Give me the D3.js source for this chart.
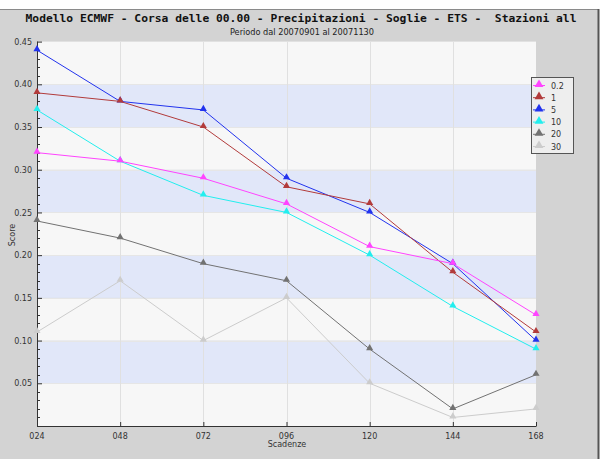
<!DOCTYPE html>
<html>
<head>
<meta charset="utf-8">
<script src="https://cdn.jsdelivr.net/npm/d3@7"></script>
<style>
  html, body { margin: 0; padding: 0; background: #ffffff; }
  svg { display: block; }
</style>
</head>
<body>
<script>
// Forecast lead times (hours) and ETS scores per precipitation threshold
const leadTimes = ["024", "048", "072", "096", "120", "144", "168"];
const thresholds = ["0.2", "1", "5", "10", "20", "30"];
const ets_0_2 = [0.32, 0.31, 0.29, 0.26, 0.21, 0.19, 0.13];
const ets_1   = [0.39, 0.38, 0.35, 0.28, 0.26, 0.18, 0.11];
const ets_5   = [0.44, 0.38, 0.37, 0.29, 0.25, 0.19, 0.10];
const ets_10  = [0.37, 0.31, 0.27, 0.25, 0.20, 0.14, 0.09];
const ets_20  = [0.24, 0.22, 0.19, 0.17, 0.09, 0.02, 0.06];
const ets_30  = [0.11, 0.17, 0.10, 0.15, 0.05, 0.01, 0.02];
const yTickLabels = ["0.05", "0.10", "0.15", "0.20", "0.25", "0.30", "0.35", "0.40", "0.45"];
const seriesColors = ["#ff44ff", "#b23b3b", "#2233ee", "#22eeee", "#727272", "#cccccc"];

const seriesValues = [ets_0_2, ets_1, ets_5, ets_10, ets_20, ets_30];
const series = thresholds.map((t, i) => ({ name: t, values: seriesValues[i], color: seriesColors[i] }));

const W = 601, H = 459;
const plot = { left: 37, right: 536, top: 41.6, bottom: 426 };

const svg = d3.select("body").append("svg")
  .attr("width", W).attr("height", H);

// Grey panel with darker frame on top and right
svg.append("rect").attr("x", 0).attr("y", 9).attr("width", 599).attr("height", H - 9)
  .attr("fill", "#d3d3d3");
svg.append("line").attr("x1", 0).attr("x2", 599).attr("y1", 9.5).attr("y2", 9.5)
  .attr("stroke", "#8a8a8a").attr("stroke-width", 1);
svg.append("line").attr("x1", 598.5).attr("x2", 598.5).attr("y1", 9).attr("y2", H)
  .attr("stroke", "#555555").attr("stroke-width", 2);

const x = d3.scalePoint().domain(leadTimes).range([plot.left, plot.right]);
const y = d3.scaleLinear().domain([0, 0.45]).range([plot.bottom, plot.top]);

// Plot background: alternating horizontal bands every 0.05
const bandStarts = d3.range(0, 0.45, 0.05);
svg.append("g").selectAll("rect").data(bandStarts).join("rect")
  .attr("x", plot.left)
  .attr("width", plot.right - plot.left)
  .attr("y", d => y(d + 0.05))
  .attr("height", d => y(d) - y(d + 0.05))
  .attr("fill", (d, i) => (i % 2 === 1) ? "#e1e7f9" : "#f7f7f7");

// Faint band separators
svg.append("g").selectAll("line").data(d3.range(0.05, 0.45, 0.05)).join("line")
  .attr("x1", plot.left).attr("x2", plot.right)
  .attr("y1", d => Math.round(y(d)) + 0.5).attr("y2", d => Math.round(y(d)) + 0.5)
  .attr("stroke", "#e6e6e6").attr("stroke-width", 1);

// Vertical grid lines at each lead time
svg.append("g").selectAll("line").data(leadTimes.slice(1, -1)).join("line")
  .attr("x1", d => Math.round(x(d)) + 0.5).attr("x2", d => Math.round(x(d)) + 0.5)
  .attr("y1", plot.top).attr("y2", plot.bottom)
  .attr("stroke", "#e0e0e0").attr("stroke-width", 1);

// Y axis: major ticks with labels, minor ticks every 0.01 pointing inward
const yAxis = d3.axisRight(y)
  .tickValues(yTickLabels.map(Number))
  .tickFormat((d, i) => yTickLabels[i])
  .tickSize(5).tickPadding(0);
const gy = svg.append("g").attr("transform", `translate(${plot.left},0)`).call(yAxis);
gy.select(".domain").remove();
gy.selectAll(".tick line").attr("stroke", "#333");
gy.selectAll(".tick text")
  .attr("x", -5).attr("text-anchor", "end")
  .attr("font-family", "DejaVu Sans").attr("font-size", 8).attr("fill", "#333");

const minor = d3.range(1, 45).filter(v => v % 5 !== 0).map(v => v / 100);
svg.append("g").selectAll("line").data(minor).join("line")
  .attr("x1", plot.left).attr("x2", plot.left + 3)
  .attr("y1", d => Math.round(y(d)) + 0.5).attr("y2", d => Math.round(y(d)) + 0.5)
  .attr("stroke", "#333").attr("stroke-width", 1);

// X axis with upward ticks
const xAxis = d3.axisTop(x).tickSize(4).tickFormat(() => "");
const gx = svg.append("g").attr("transform", `translate(0,${plot.bottom})`).call(xAxis);
gx.select(".domain").remove();
gx.selectAll(".tick line").attr("stroke", "#333");
svg.append("g").selectAll("text").data(leadTimes).join("text")
  .attr("x", d => x(d)).attr("y", plot.bottom + 13)
  .attr("text-anchor", "middle")
  .attr("font-family", "DejaVu Sans").attr("font-size", 8).attr("fill", "#333")
  .text(d => d);

// Axis lines
svg.append("line").attr("x1", plot.left + 0.5).attr("x2", plot.left + 0.5)
  .attr("y1", plot.top).attr("y2", plot.bottom + 0.5)
  .attr("stroke", "#333").attr("stroke-width", 1);
svg.append("line").attr("x1", plot.left).attr("x2", plot.right + 0.5)
  .attr("y1", plot.bottom + 0.5).attr("y2", plot.bottom + 0.5)
  .attr("stroke", "#333").attr("stroke-width", 1);

// Series lines and triangle markers
const line = d3.line().x((d, i) => x(leadTimes[i])).y(d => y(d));
const tri = d3.symbol().type(d3.symbolTriangle).size(22);
const gs = svg.append("g");
series.slice().reverse().forEach(s => {
  gs.append("path").datum(s.values)
    .attr("d", line).attr("fill", "none")
    .attr("stroke", s.color).attr("stroke-width", 1);
  gs.append("g").selectAll("path").data(s.values).join("path")
    .attr("d", tri)
    .attr("transform", (d, i) => `translate(${x(leadTimes[i])},${y(d) - 1})`)
    .attr("fill", s.color);
});

// Titles
svg.append("text").attr("x", 301).attr("y", 21.5).attr("text-anchor", "middle")
  .attr("font-family", "DejaVu Sans Mono").attr("font-weight", "bold")
  .attr("font-size", 11.3).attr("fill", "#111")
  .attr("xml:space", "preserve")
  .text("Modello ECMWF - Corsa delle 00.00 - Precipitazioni - Soglie - ETS -  Stazioni all");
svg.append("text").attr("x", 302).attr("y", 35).attr("text-anchor", "middle")
  .attr("font-family", "DejaVu Sans").attr("font-size", 8.2).attr("fill", "#222")
  .text("Periodo dal 20070901 al 20071130");

// Axis titles
svg.append("text").attr("transform", "translate(15,235) rotate(-90)")
  .attr("text-anchor", "middle")
  .attr("font-family", "DejaVu Sans").attr("font-size", 8).attr("fill", "#333")
  .text("Score");
svg.append("text").attr("x", 287).attr("y", 447).attr("text-anchor", "middle")
  .attr("font-family", "DejaVu Sans").attr("font-size", 8).attr("fill", "#333")
  .text("Scadenze");

// Legend
const lg = svg.append("g").attr("transform", "translate(531,77)");
lg.append("rect").attr("x", 0.5).attr("y", 0.5).attr("width", 42).attr("height", 76)
  .attr("fill", "#eeeeee").attr("stroke", "#555").attr("stroke-width", 1);
const rows = lg.selectAll("g.row").data(series).join("g")
  .attr("class", "row")
  .attr("transform", (d, i) => `translate(0,${8.5 + i * 12.2})`);
rows.append("line").attr("x1", 2).attr("x2", 14).attr("y1", 0).attr("y2", 0)
  .attr("stroke", d => d.color).attr("stroke-width", 1);
rows.append("path").attr("d", d3.symbol().type(d3.symbolTriangle).size(34))
  .attr("transform", "translate(8,-1)").attr("fill", d => d.color);
rows.append("text").attr("x", 20).attr("y", 3)
  .attr("font-family", "DejaVu Sans").attr("font-size", 8).attr("fill", "#333")
  .text(d => d.name);
</script>
</body>
</html>
